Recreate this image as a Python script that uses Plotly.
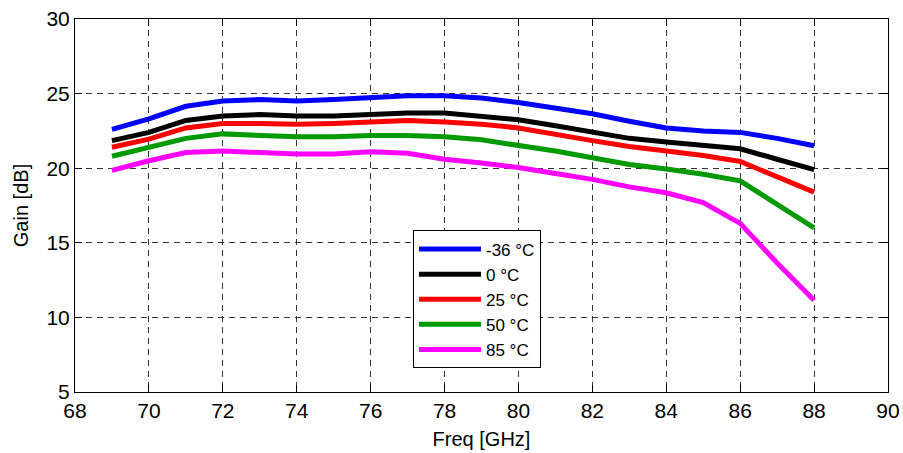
import plotly.graph_objects as go

freq = [69, 70, 71, 72, 73, 74, 75, 76, 77, 78, 79, 80, 81, 82, 83, 84, 85, 86, 87, 88]
gain_m36 = [22.6, 23.3, 24.15, 24.5, 24.6, 24.5, 24.6, 24.75, 24.85, 24.85, 24.7, 24.4, 24.05, 23.65, 23.15, 22.7, 22.5, 22.4, 22.0, 21.5]
gain_0 = [21.85, 22.4, 23.2, 23.5, 23.6, 23.5, 23.5, 23.6, 23.7, 23.7, 23.5, 23.25, 22.85, 22.4, 22.0, 21.75, 21.5, 21.3, 20.6, 19.9]
gain_25 = [21.4, 21.95, 22.7, 23.0, 23.0, 22.95, 23.0, 23.1, 23.2, 23.1, 22.95, 22.7, 22.25, 21.85, 21.45, 21.15, 20.85, 20.45, 19.45, 18.4]
gain_50 = [20.8, 21.4, 22.0, 22.3, 22.2, 22.1, 22.1, 22.2, 22.2, 22.1, 21.9, 21.55, 21.15, 20.7, 20.25, 19.95, 19.6, 19.15, 17.55, 16.0]
gain_85 = [19.85, 20.5, 21.05, 21.15, 21.05, 20.95, 20.95, 21.1, 21.0, 20.6, 20.35, 20.05, 19.65, 19.25, 18.75, 18.35, 17.7, 16.3, 13.65, 11.15]

labels = ["-36 °C", "0 °C", "25 °C", "50 °C", "85 °C"]
colors = ["#0000FF", "#000000", "#FF0000", "#009900", "#FF00FF"]
series = [gain_m36, gain_0, gain_25, gain_50, gain_85]

x_ticks = list(range(68, 91, 2))
y_ticks = list(range(5, 31, 5))

font_family = "Liberation Sans, Arial, sans-serif"

fig = go.Figure()
for lab, col, ys in zip(labels, colors, series):
    fig.add_trace(go.Scatter(x=freq, y=ys, mode="lines", name=lab,
                             line=dict(color=col, width=5)))

axis_common = dict(
    showline=True, linecolor="black", linewidth=1, mirror="ticks",
    ticks="inside", ticklen=7, tickcolor="black", tickwidth=1,
    showgrid=True, gridcolor="#333333", gridwidth=1, griddash="6px,5px",
    zeroline=False, automargin=False,
    tickfont=dict(family=font_family, size=21, color="black"),
)

fig.update_xaxes(range=[68, 90], tickvals=x_ticks, ticktext=[str(v) for v in x_ticks],
                 title=dict(text="Freq [GHz]", font=dict(family=font_family, size=20, color="black"), standoff=10),
                 **axis_common)
fig.update_yaxes(range=[5, 30], tickvals=y_ticks, ticktext=[str(v) for v in y_ticks],
                 title=dict(text="Gain [dB]", font=dict(family=font_family, size=20, color="black"), standoff=12),
                 **axis_common)

fig.update_layout(
    width=903, height=453,
    margin=dict(l=75, r=15, t=19, b=61),
    paper_bgcolor="white", plot_bgcolor="white",
    font=dict(family=font_family, color="black"),
    showlegend=True,
    legend=dict(x=0.4157, y=0.433, xanchor="left", yanchor="top",
                bgcolor="white", bordercolor="black", borderwidth=1,
                font=dict(family=font_family, size=17, color="black"),
                itemwidth=62, tracegroupgap=0),
)

fig.write_html("out.html",
               config={"displayModeBar": False},
               post_script="document.body.style.margin='0';document.body.style.overflow='hidden';")
